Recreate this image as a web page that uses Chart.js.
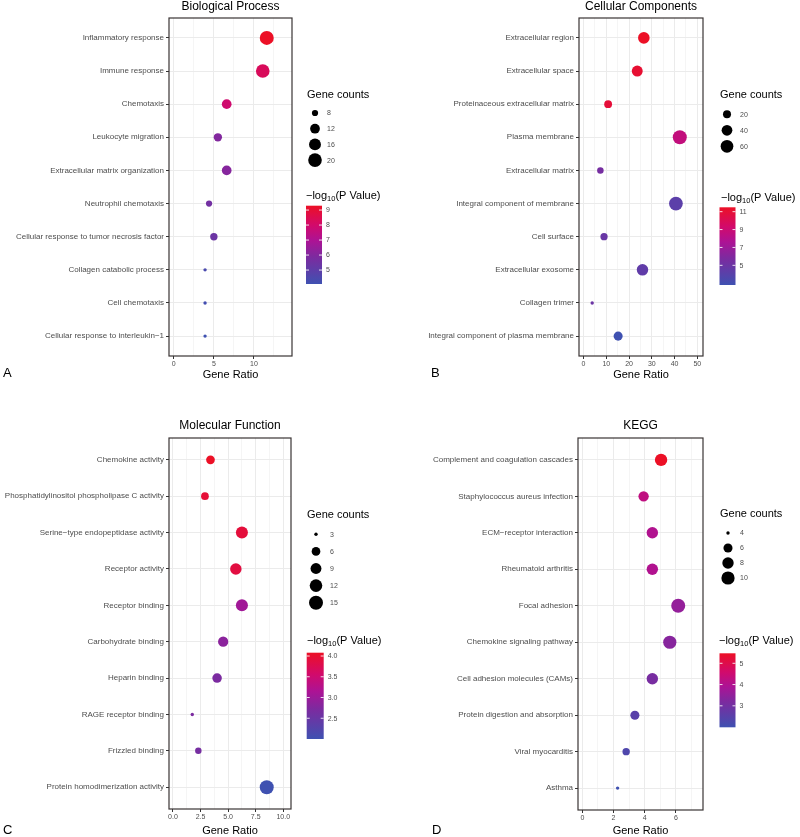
<!DOCTYPE html>
<html>
<head>
<meta charset="utf-8">
<script src="https://cdn.jsdelivr.net/npm/chart.js@4"></script>
<style>
  body { margin: 0; background: #fff; }
  #wrap { position: relative; width: 800px; height: 837px; }
  .panel { position: absolute; }
</style>
</head>
<body>
<div id="wrap">
  <div class="panel" style="left:0;top:0;width:400px;height:418px"><canvas id="chartA"></canvas></div>
  <div class="panel" style="left:400px;top:0;width:400px;height:418px"><canvas id="chartB"></canvas></div>
  <div class="panel" style="left:0;top:418px;width:400px;height:419px"><canvas id="chartC"></canvas></div>
  <div class="panel" style="left:400px;top:418px;width:400px;height:419px"><canvas id="chartD"></canvas></div>
</div>
<script>
// ---- data ----
const bpTerms = ['Inflammatory response', 'Immune response', 'Chemotaxis', 'Leukocyte migration',
  'Extracellular matrix organization', 'Neutrophil chemotaxis', 'Cellular response to tumor necrosis factor',
  'Collagen catabolic process', 'Cell chemotaxis', 'Cellular response to interleukin\u22121'];
const bpRatio = [11.6, 11.1, 6.6, 5.5, 6.6, 4.4, 5.0, 3.9, 3.9, 3.9];
const bpCount = [21, 20, 12, 10, 12, 8, 9, 7, 7, 7];
const bpLogP = [9.29, 8.3, 7.9, 6.0, 6.1, 5.6, 5.4, 4.4, 4.2, 4.07];
const bpRatioTicks = [0, 5, 10];
const bpCountBreaks = [8, 12, 16, 20];
const bpLogPTicks = [5, 6, 7, 8, 9];

const ccTerms = ['Extracellular region', 'Extracellular space', 'Proteinaceous extracellular matrix',
  'Plasma membrane', 'Extracellular matrix', 'Integral component of membrane', 'Cell surface',
  'Extracellular exosome', 'Collagen trimer', 'Integral component of plasma membrane'];
const ccRatio = [26.5, 23.6, 10.8, 42.3, 7.4, 40.6, 9.0, 25.9, 3.8, 15.2];
const ccCount = [48, 42, 19, 76, 13, 73, 16, 47, 7, 27];
const ccLogP = [11.49, 11.1, 10.9, 8.6, 5.5, 4.2, 4.8, 4.4, 5.0, 2.8];
const ccRatioTicks = [0, 10, 20, 30, 40, 50];
const ccCountBreaks = [20, 40, 60];
const ccLogPTicks = [5, 7, 9, 11];

const mfTerms = ['Chemokine activity', 'Phosphatidylinositol phospholipase C activity',
  'Serine\u2212type endopeptidase activity', 'Receptor activity', 'Receptor binding',
  'Carbohydrate binding', 'Heparin binding', 'RAGE receptor binding', 'Frizzled binding',
  'Protein homodimerization activity'];
const mfRatio = [3.4, 2.9, 6.25, 5.7, 6.25, 4.55, 4.0, 1.75, 2.3, 8.5];
const mfCount = [6, 5, 11, 10, 11, 8, 7, 3, 4, 15];
const mfLogP = [4.08, 3.95, 3.92, 3.88, 3.05, 2.85, 2.7, 2.7, 2.65, 2.0];
const mfRatioTicks = [0, 2.5, 5, 7.5, 10];
const mfCountBreaks = [3, 6, 9, 12, 15];
const mfLogPTicks = [2.5, 3.0, 3.5, 4.0];

const keggTerms = ['Complement and coagulation cascades', 'Staphylococcus aureus infection',
  'ECM\u2212receptor interaction', 'Rheumatoid arthritis', 'Focal adhesion', 'Chemokine signaling pathway',
  'Cell adhesion molecules (CAMs)', 'Protein digestion and absorption', 'Viral myocarditis', 'Asthma'];
const keggRatio = [5.05, 3.93, 4.49, 4.49, 6.15, 5.61, 4.49, 3.37, 2.81, 2.26];
const keggCount = [9, 7, 8, 8, 11, 10, 8, 6, 5, 4];
const keggLogP = [5.47, 4.25, 4.0, 4.0, 3.55, 3.35, 3.1, 2.5, 2.3, 1.99];
const keggRatioTicks = [0, 2, 4, 6];
const keggCountBreaks = [4, 6, 8, 10];
const keggLogPTicks = [3, 4, 5];

// ---- styling helpers ----
const FONT = '"Liberation Sans", Arial, Helvetica, sans-serif';
Chart.defaults.font.family = FONT;

const gradStops = [
  [0, [63, 81, 177]],
  [0.35, [125, 42, 159]],
  [0.55, [172, 19, 149]],
  [0.75, [210, 10, 107]],
  [1, [236, 16, 38]]
];

function gradColor(t) {
  t = Math.max(0, Math.min(1, t));
  for (let i = 1; i < gradStops.length; i++) {
    const [t1, c1] = gradStops[i];
    const [t0, c0] = gradStops[i - 1];
    if (t <= t1) {
      const f = (t - t0) / (t1 - t0);
      const c = c0.map((v, k) => Math.round(v + (c1[k] - v) * f));
      return 'rgb(' + c.join(',') + ')';
    }
  }
  return 'rgb(' + gradStops[gradStops.length - 1][1].join(',') + ')';
}

const decor = {
  id: 'decor',
  afterDraw(chart, args, o) {
    const ctx = chart.ctx;
    const a = chart.chartArea;
    ctx.save();

    // panel border
    ctx.strokeStyle = '#3a3434';
    ctx.lineWidth = 1.2;
    ctx.strokeRect(a.left, a.top, a.right - a.left, a.bottom - a.top);

    ctx.fillStyle = '#000';
    ctx.textBaseline = 'middle';

    // title
    ctx.font = '12px ' + FONT;
    ctx.textAlign = 'center';
    ctx.fillText(o.title, (a.left + a.right) / 2, o.titleY);

    // x axis title
    ctx.font = '11px ' + FONT;
    ctx.fillText('Gene Ratio', (a.left + a.right) / 2, o.ratioTitleY);

    // panel letter
    ctx.font = '13px ' + FONT;
    ctx.textAlign = 'left';
    ctx.fillText(o.letter, o.letterX, o.letterY);

    // size legend
    const s = o.sizeLegend;
    ctx.font = '11px ' + FONT;
    ctx.fillText('Gene counts', s.x, s.titleY);
    ctx.font = '7px ' + FONT;
    o.countBreaks.forEach((v, i) => {
      const y = s.y0 + i * s.dy;
      ctx.fillStyle = '#000';
      ctx.beginPath();
      ctx.arc(s.circleX, y, o.radius(v), 0, Math.PI * 2);
      ctx.fill();
      ctx.fillStyle = '#4D4D4D';
      ctx.fillText(String(v), s.textX, y + 0.5);
    });

    // colour bar legend
    const cb = o.colorBar;
    ctx.fillStyle = '#000';
    ctx.font = '11px ' + FONT;
    let tx = cb.titleX;
    ctx.fillText('\u2212log', tx, cb.titleY);
    tx += ctx.measureText('\u2212log').width;
    ctx.font = '7.5px ' + FONT;
    ctx.fillText('10', tx, cb.titleY + 3);
    tx += ctx.measureText('10').width;
    ctx.font = '11px ' + FONT;
    ctx.fillText('(P Value)', tx, cb.titleY);

    const g = ctx.createLinearGradient(0, cb.bottom, 0, cb.top);
    gradStops.forEach(([t, c]) => g.addColorStop(t, 'rgb(' + c.join(',') + ')'));
    ctx.fillStyle = g;
    ctx.fillRect(cb.x, cb.top, cb.w, cb.bottom - cb.top);

    ctx.font = '7px ' + FONT;
    o.logPTicks.forEach(v => {
      const y = cb.bottom - (v - o.pMin) / (o.pMax - o.pMin) * (cb.bottom - cb.top);
      ctx.strokeStyle = 'rgba(255,255,255,0.85)';
      ctx.lineWidth = 1;
      ctx.beginPath();
      ctx.moveTo(cb.x, y); ctx.lineTo(cb.x + 3, y);
      ctx.moveTo(cb.x + cb.w - 3, y); ctx.lineTo(cb.x + cb.w, y);
      ctx.stroke();
      ctx.fillStyle = '#4D4D4D';
      ctx.fillText(v.toFixed(o.logPDigits), cb.x + cb.w + 4, y + 0.5);
    });

    ctx.restore();
  }
};

function makePanel(id, p) {
  const cMin = Math.min(...p.count), cMax = Math.max(...p.count);
  const pMin = Math.min(...p.logp), pMax = Math.max(...p.logp);
  const radius = c => 1.7 + 5.3 * Math.sqrt(Math.max(0, (c - cMin) / (cMax - cMin)));

  const majors = p.ratioTicks;
  const step = majors[1] - majors[0];
  const xTicks = [];
  for (let v = majors[0] - step / 2; v <= p.xMax; v += step / 2) {
    if (v >= p.xMin) xTicks.push(v);
  }
  const isMajor = v => majors.some(m => Math.abs(m - v) < 1e-9);

  const points = p.terms.map((t, i) => ({ x: p.ratio[i], y: i }));

  new Chart(document.getElementById(id), {
    type: 'scatter',
    data: {
      datasets: [{
        data: points,
        pointRadius: c => radius(p.count[c.dataIndex]),
        pointHoverRadius: c => radius(p.count[c.dataIndex]),
        pointBackgroundColor: c => gradColor((p.logp[c.dataIndex] - pMin) / (pMax - pMin)),
        pointBorderWidth: 0
      }]
    },
    options: {
      responsive: true,
      maintainAspectRatio: false,
      animation: false,
      events: [],
      layout: { padding: { top: p.area.top, right: p.W - p.area.right, bottom: 0, left: 0 } },
      plugins: {
        legend: { display: false },
        tooltip: { enabled: false },
        decor: {
          title: p.title, titleY: p.titleY, ratioTitleY: p.ratioTitleY,
          letter: p.letter, letterX: p.letterX, letterY: p.letterY,
          sizeLegend: p.sizeLegend, colorBar: p.colorBar,
          countBreaks: p.countBreaks, logPTicks: p.logPTicks, logPDigits: p.logPDigits,
          radius: radius, pMin: pMin, pMax: pMax
        }
      },
      scales: {
        x: {
          type: 'linear',
          min: p.xMin,
          max: p.xMax,
          afterBuildTicks: s => { s.ticks = xTicks.map(v => ({ value: v })); },
          afterFit: s => { s.height = p.H - p.area.bottom; },
          border: { display: false },
          grid: {
            color: '#EBEBEB',
            lineWidth: c => (c.tick && isMajor(c.tick.value)) ? 1 : 0.5,
            tickColor: c => (c.tick && isMajor(c.tick.value)) ? '#333' : 'rgba(0,0,0,0)',
            tickLength: 3
          },
          ticks: {
            autoSkip: false,
            maxRotation: 0,
            padding: 1,
            color: '#4D4D4D',
            font: { size: 7 },
            callback: v => isMajor(v) ? v.toFixed(p.ratioDigits) : ''
          }
        },
        y: {
          type: 'linear',
          reverse: true,
          min: -0.6,
          max: p.terms.length - 0.4,
          afterBuildTicks: s => { s.ticks = p.terms.map((t, i) => ({ value: i })); },
          afterFit: s => { s.width = p.area.left; },
          border: { display: false },
          grid: { color: '#EBEBEB', lineWidth: 1, tickColor: '#333', tickLength: 3 },
          ticks: {
            autoSkip: false,
            padding: 2,
            color: '#4D4D4D',
            font: { size: 8 },
            callback: v => p.terms[v]
          }
        }
      }
    },
    plugins: [decor]
  });
}

makePanel('chartA', {
  terms: bpTerms, ratio: bpRatio, count: bpCount, logp: bpLogP,
  ratioTicks: bpRatioTicks, ratioDigits: 0, countBreaks: bpCountBreaks, logPTicks: bpLogPTicks, logPDigits: 0,
  title: 'Biological Process', letter: 'A',
  W: 400, H: 418, area: { left: 169, right: 292, top: 18, bottom: 356 }, xMin: -0.6, xMax: 14.75,
  titleY: 7, ratioTitleY: 375, letterX: 3, letterY: 373,
  sizeLegend: { x: 307, titleY: 95, circleX: 315, textX: 327, y0: 113, dy: 15.7 },
  colorBar: { titleX: 306, titleY: 196, x: 306, w: 16, top: 205.7, bottom: 284 }
});

makePanel('chartB', {
  terms: ccTerms, ratio: ccRatio, count: ccCount, logp: ccLogP,
  ratioTicks: ccRatioTicks, ratioDigits: 0, countBreaks: ccCountBreaks, logPTicks: ccLogPTicks, logPDigits: 0,
  title: 'Cellular Components', letter: 'B',
  W: 400, H: 418, area: { left: 179, right: 303, top: 18, bottom: 356 }, xMin: -2, xMax: 52.5,
  titleY: 7, ratioTitleY: 375, letterX: 31, letterY: 373,
  sizeLegend: { x: 320, titleY: 95, circleX: 327, textX: 340, y0: 114.3, dy: 16 },
  colorBar: { titleX: 321, titleY: 198, x: 319.5, w: 16, top: 207.3, bottom: 285 }
});

makePanel('chartC', {
  terms: mfTerms, ratio: mfRatio, count: mfCount, logp: mfLogP,
  ratioTicks: mfRatioTicks, ratioDigits: 1, countBreaks: mfCountBreaks, logPTicks: mfLogPTicks, logPDigits: 1,
  title: 'Molecular Function', letter: 'C',
  W: 400, H: 419, area: { left: 169, right: 291, top: 20, bottom: 391 }, xMin: -0.36, xMax: 10.7,
  titleY: 8, ratioTitleY: 413, letterX: 3, letterY: 412,
  sizeLegend: { x: 307, titleY: 97, circleX: 316, textX: 330, y0: 116.3, dy: 17.1 },
  colorBar: { titleX: 307, titleY: 222.7, x: 306.7, w: 17, top: 234.7, bottom: 321 }
});

makePanel('chartD', {
  terms: keggTerms, ratio: keggRatio, count: keggCount, logp: keggLogP,
  ratioTicks: keggRatioTicks, ratioDigits: 0, countBreaks: keggCountBreaks, logPTicks: keggLogPTicks, logPDigits: 0,
  title: 'KEGG', letter: 'D',
  W: 400, H: 419, area: { left: 178, right: 303, top: 20, bottom: 392 }, xMin: -0.28, xMax: 7.74,
  titleY: 8, ratioTitleY: 413, letterX: 32, letterY: 412,
  sizeLegend: { x: 320, titleY: 96.3, circleX: 328, textX: 340, y0: 115, dy: 15 },
  colorBar: { titleX: 319, titleY: 222.7, x: 319.5, w: 16, top: 235.3, bottom: 309.3 }
});
</script>
</body>
</html>
